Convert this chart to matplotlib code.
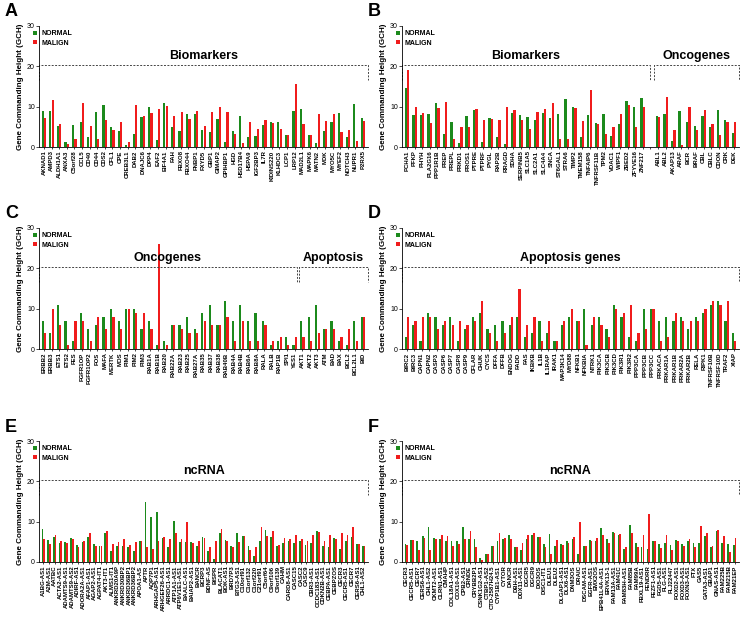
import numpy as np
import matplotlib.pyplot as plt

plt.rcParams['font.family'] = ['Liberation Sans', 'DejaVu Sans']

GREEN = '#1c8a1c'
RED = '#f01c1c'

# ---- panel A : biomarkers
a_genes = ['AKNAD1', 'AMPD3', 'ALDH1A1', 'ANXA3', 'C5orf28', 'CCL5', 'CD40', 'CD44', 'CDS2', 'CFL1',
           'CPE', 'CREB3L1', 'DAB2', 'DNAJC6', 'DPP4', 'EAF2', 'EIF4A1', 'FAH', 'FBXO8', 'FBXO44',
           'FNBP1', 'FXYD5', 'GBP1', 'GIMAP2', 'GPIHBP1', 'HGD', 'HSD17B4', 'HSPA9', 'IGF2BP3', 'IL7R',
           'KIDINS220', 'KLHDC3', 'LCP1', 'LRP12', 'MAD2L1', 'MAPK6', 'MATN2', 'MDK', 'MYO5C', 'MYEF2',
           'NOTCH3', 'NUPR1', 'P2RX5']
a_normal = [9.0, 9.0, 5.2, 1.3, 5.4, 6.3, 2.6, 8.6, 10.4, 4.9, 4.0, 0.5, 3.2, 7.4, 9.9, 1.7, 10.8,
            4.9, 3.9, 8.3, 8.3, 4.2, 3.6, 7.0, 1.2, 3.9, 7.8, 2.5, 2.7, 5.5, 6.2, 6.2, 2.9, 8.9, 9.4,
            3.0, 1.0, 4.0, 6.1, 8.4, 2.6, 10.7, 7.2]
a_malign = [7.3, 11.6, 5.8, 0.7, 2.1, 10.9, 5.2, 1.9, 6.6, 4.3, 6.1, 1.3, 10.4, 7.7, 8.5, 9.4, 10.1,
            7.8, 8.6, 6.9, 8.9, 5.1, 8.6, 9.9, 8.7, 3.1, 0.9, 6.2, 4.5, 6.7, 5.9, 4.5, 2.9, 15.6, 5.8,
            3.0, 8.1, 6.4, 8.1, 3.7, 4.3, 1.6, 6.5]
a_sections = [('Biomarkers', -0.65, 42.65)]

# ---- panel B : biomarkers + oncogenes
b_genes = ['PCHA1', 'PFKP', 'PHYH', 'PLA2G16', 'PPP1R1B', 'PREP', 'PREPL', 'PRKD1', 'PROS1', 'PTPRE',
           'PTPRF', 'PYGL', 'RAP2B', 'RRAGD', 'SDHA', 'SERPINB5', 'SLC1A5', 'SLC2A1', 'SLC4A4', 'SNCA',
           'ST6GAL1', 'STRA6', 'TIMP2', 'TMEM158', 'TNFAIP6', 'TNFRSF11B', 'TPM2', 'VDAC1', 'WIPF1',
           'ZBED2', 'ZFYVE16', 'ZNF217', '', 'ABL1', 'ABL2', 'AKAP13', 'ARAF', 'BCR', 'BRAF', 'CBL',
           'CBLC', 'CDON', 'CRK', 'DEK']
b_normal = [14.6, 7.9, 7.9, 8.1, 10.8, 3.2, 6.2, 0.9, 7.6, 9.1, 1.2, 7.3, 2.6, 0.8, 8.5, 8.0, 7.5,
            6.8, 8.4, 7.2, 8.3, 12.0, 9.8, 2.6, 7.9, 5.9, 8.1, 2.8, 5.8, 11.3, 9.9, 12.2, 0.0,
            7.8, 8.1, 1.4, 9.0, 6.1, 5.2, 7.7, 4.9, 9.2, 6.6, 3.5]
b_malign = [19.0, 10.0, 8.5, 5.9, 9.6, 11.1, 1.9, 5.0, 5.0, 9.3, 6.6, 6.9, 6.7, 10.0, 9.1, 6.8, 4.4,
            8.8, 9.3, 10.9, 2.1, 2.1, 9.6, 6.5, 14.1, 5.8, 3.1, 4.9, 8.2, 10.4, 5.0, 10.0, 0.0,
            7.5, 12.5, 4.1, 0.5, 9.9, 4.1, 9.1, 5.7, 3.0, 6.1, 6.3]
b_sections = [('Biomarkers', -0.65, 31.95), ('Oncogenes', 32.47, 43.65)]

# ---- panel C : oncogenes + apoptosis
c_genes = ['ERBB2', 'ERBB3', 'ETS1', 'ETS2', 'FES', 'FGFR1OP', 'FGFR1OP2', 'FOS', 'MAFA', 'MERTK',
           'MOS', 'PIM1', 'PIM2', 'PIM3', 'RAB1A', 'RAB1B', 'RAB20', 'RAB22A', 'RAB23', 'RAB25',
           'RAB27A', 'RAB35', 'RAB37', 'RAB38', 'RAB40B', 'RAB4A', 'RAB4B', 'RAB6A', 'RAB8A', 'RALA',
           'RALB', 'RAP1B', 'SPI1', 'YES1', 'AKT1', 'AKT2', 'AKT3', 'ATM', 'BAD', 'BAX', 'BCL2',
           'BCL2L1', 'BID']
c_normal = [7, 4, 11, 7, 2, 9, 5, 6, 8, 10, 7, 10, 10, 5, 7, 1, 2, 6, 6, 8, 5, 9, 11, 6, 12, 7, 11,
            7, 9, 7, 1, 2, 3, 1, 7, 8, 11, 5, 7, 2, 1, 7, 8]
c_malign = [4, 10, 6, 1, 7, 7, 2, 8, 5, 8, 5, 10, 9, 9, 5, 26, 1, 6, 5, 4, 4, 7, 6, 6, 8, 2, 7, 2,
            2, 6, 2, 3, 1, 3, 3, 2, 4, 5, 5, 3, 5, 2, 8]
c_sections = [('Oncogenes', -0.65, 33.3), ('Apoptosis', 33.56, 42.65)]

# ---- panel D : apoptosis genes
d_genes = ['BIRC2', 'BIRC3', 'CAPN1', 'CAPN2', 'CASP3', 'CASP6', 'CASP7', 'CASP8', 'CASP9', 'CFLAR',
           'CHUK', 'CYCS', 'DFFA', 'DFFB', 'ENDOG', 'FADD', 'FAS', 'IKBKB', 'IL1B', 'IL1RAP', 'IRAK1',
           'MAP3K14', 'MYD88', 'NFKB1', 'NFKBIA', 'NTRK1', 'PIK3CA', 'PIK3CB', 'PIK3CD', 'PIK3R1',
           'PIK3R2', 'PPP3CA', 'PPP3CB', 'PPP3CC', 'PRKACA', 'PRKAR1A', 'PRKAR1B', 'PRKAR2A',
           'PRKAR2B', 'RELA', 'RIPK1', 'TNFRSF10B', 'TNFRSF10D', 'TRAF2', 'XIAP']
d_normal = [3, 6, 2, 9, 8, 6, 8, 2, 5, 8, 9, 5, 6, 7, 6, 8, 3, 4, 7, 4, 2, 6, 8, 7, 10, 6, 8, 5,
            11, 8, 3, 2, 10, 10, 7, 8, 7, 8, 5, 8, 9, 11, 12, 7, 4]
d_malign = [8, 7, 8, 8, 5, 7, 6, 7, 6, 7, 12, 4, 2, 4, 8, 15, 6, 8, 2, 7, 2, 7, 10, 7, 1, 8, 6, 3,
            10, 9, 11, 4, 5, 10, 2, 3, 9, 7, 7, 7, 10, 12, 11, 12, 2]
d_sections = [('Apoptosis genes', -0.65, 44.65)]

# ---- panel E : ncRNA
e_genes = ['A1BG-AS1', 'A2M-AS1', 'AATBC', 'ACTA2-AS1', 'ADAMTS9-AS1', 'ADAMTS9-AS2', 'ADIRF-AS1',
           'ADORA2A-AS1', 'AFAP1-AS1', 'AGAP2-AS1', 'AGPAT4-IT1', 'AKT3-IT1', 'ALMS1-IT1', 'ANKRD20A9P',
           'ANKRD30BP2', 'ANKRD36BP1', 'ANKRD36BP2', 'APOA1-AS', 'APTR', 'AQP7P1', 'ARHGAP5-AS1',
           'ARHGEF26-AS1', 'ARRDC1-AS1', 'ATP1A1-AS1', 'ATP6V1E1-AS1', 'BAALC-AS1', 'BAIAP2-AS1',
           'BANCR', 'BCRP3', 'BDNF-AS', 'BISPR', 'BLACAT1', 'BOK-AS1', 'BRD7P3', 'BTG3-AS1',
           'C10orf91', 'C1orf132', 'C1orf220', 'C21orf91', 'C5orf64', 'C9orf106', 'C9orf139', 'CAHM',
           'CARD8-AS1', 'CASC15', 'CASC2', 'CASC9', 'CBR3-AS1', 'CCDC183-AS1', 'CDKN2B-AS1',
           'CEBPA-AS1', 'CEBPZOS', 'CECR3', 'CECR5-AS1', 'CECR7', 'CERS6-AS1', 'CHL1-AS2']
e_normal = [8.3, 5.4, 6.3, 4.6, 4.9, 5.9, 4.2, 4.9, 6.3, 4.4, 3.9, 7.2, 2.8, 3.9, 4.0, 3.8, 2.7, 5.2,
            14.9, 11.2, 12.3, 5.9, 3.7, 10.2, 4.9, 4.9, 4.9, 3.9, 6.3, 2.7, 0.8, 7.2, 5.4, 3.9, 7.1,
            6.5, 4.0, 1.5, 5.1, 7.9, 6.3, 4.0, 4.6, 5.3, 4.7, 5.1, 4.3, 4.6, 7.7, 4.0, 3.7, 6.0, 3.2,
            5.2, 6.3, 4.4, 3.9]
e_malign = [5.7, 4.5, 6.8, 5.2, 4.8, 5.8, 3.6, 5.3, 7.2, 3.9, 4.0, 7.8, 4.5, 4.9, 5.6, 4.2, 4.9, 5.1,
            3.6, 3.2, 5.2, 6.2, 5.8, 7.2, 5.7, 9.9, 4.6, 5.2, 5.9, 3.7, 5.2, 8.1, 5.2, 3.6, 4.9,
            6.5, 3.0, 3.7, 8.6, 6.5, 7.8, 4.2, 6.0, 5.8, 6.7, 5.6, 5.3, 6.6, 7.5, 5.1, 6.6, 5.8, 7.2,
            6.7, 8.7, 4.4, 3.9]
e_sections = [('ncRNA', -0.75, 56.75)]

# ---- panel F : ncRNA
f_genes = ['CECR3', 'CECR5-AS1', 'CECR7', 'CERS6-AS1', 'CHL1-AS2', 'CKMT2-AS1', 'CLRN1-AS1',
           'CMAHP', 'COL18A1-AS1', 'COX10-AS1', 'CPB2-AS1', 'CRNDE', 'CRYBB2P1', 'CSNK1G2-AS1',
           'CTBP1-AS2', 'CTD-2587H24.5', 'CYP1B1-AS1', 'CYTOR', 'DANCR', 'DBH-AS1', 'DDX11-AS1',
           'DGCR5', 'DGCR9', 'DIO3OS', 'DISC1-IT1', 'DLEU1', 'DLEU2', 'DLGAP1-AS1', 'DLX6-AS1',
           'DNM3OS', 'DRAIC', 'DSCAM-AS1', 'EGFR-AS1', 'EMX2OS', 'EPB41L4A-AS1', 'ERVK13-1',
           'FAM13A-AS1', 'FAM41C', 'FAM83H-AS1', 'FAM85B', 'FAM99A', 'FBXL19-AS1', 'FENDRR',
           'FEZF1-AS1', 'FGD5-AS1', 'FLG-AS1', 'FLJ22447', 'FOXD2-AS1', 'FOXD3-AS1', 'FOXN3-AS1',
           'FTX', 'GAS5', 'GATA3-AS1', 'GBAP1', 'GNAS-AS1', 'FAM225B', 'FAM215B', 'FAM21EP']
f_normal = [4.4, 5.4, 5.1, 6.5, 8.8, 6.0, 5.8, 5.3, 5.3, 5.1, 8.6, 5.8, 5.7, 0.9, 2.1, 4.0, 5.3,
            5.8, 6.8, 3.6, 3.0, 5.6, 6.6, 6.1, 4.5, 6.9, 3.9, 4.5, 5.2, 5.7, 2.1, 3.9, 5.4, 5.3, 8.5,
            5.7, 7.4, 6.8, 3.2, 9.2, 4.6, 3.8, 3.3, 5.2, 4.5, 4.8, 4.3, 5.4, 4.5, 5.2, 4.7, 4.7, 6.5,
            3.8, 7.7, 4.8, 4.5, 4.3]
f_malign = [4.3, 5.4, 3.0, 6.0, 2.9, 5.8, 6.6, 6.4, 3.9, 4.4, 5.8, 7.8, 3.6, 0.6, 2.1, 4.0, 7.2,
            5.9, 5.7, 3.6, 4.7, 6.7, 7.1, 6.1, 3.7, 2.0, 5.4, 4.1, 4.7, 6.2, 10.0, 3.9, 5.3, 5.9, 6.8,
            4.6, 7.3, 6.9, 3.7, 7.1, 3.8, 6.6, 11.9, 5.2, 3.4, 6.8, 2.9, 5.2, 3.9, 5.7, 3.7, 9.0, 7.2,
            3.9, 8.0, 6.4, 2.4, 6.0]
f_sections = [('ncRNA', -0.75, 57.75)]


def draw_panel(ax, genes, normal, malign, sections, margin):
    x = np.arange(len(genes))
    ax.bar(x - 0.155, normal, width=0.3, color=GREEN, label='NORMAL')
    ax.bar(x + 0.155, malign, width=0.3, color=RED, label='MALIGN')
    ax.set_xlim(-margin, len(genes) - 1 + margin)
    ax.set_ylim(0, 30)
    ax.set_yticks([0, 10, 20, 30])
    ax.set_xticks(x)
    ax.set_xticklabels(genes, rotation=90, fontsize=4.3, fontweight='bold')
    ax.tick_params(axis='x', length=1.5, width=0.5, pad=1)
    ax.tick_params(axis='y', labelsize=5, length=2, width=0.5, pad=1)
    ax.spines['top'].set_visible(False)
    ax.spines['right'].set_visible(False)
    ax.spines['left'].set_linewidth(0.6)
    ax.spines['bottom'].set_linewidth(0.6)
    ax.set_ylabel('Gene Commanding Height (GCH)', fontsize=5.8, fontweight='bold', labelpad=2)
    for name, start, end in sections:
        ax.plot([start, start, end, end], [16.5, 20.3, 20.3, 16.5], ls=(0, (2, 1.5)),
                color='#444444', lw=0.7, clip_on=False)
        ax.text((start + end) / 2, 21.0, name, ha='center', va='bottom',
                fontsize=9, fontweight='bold')
    ax.legend(loc='upper left', bbox_to_anchor=(-0.03, 1.0), frameon=False,
              prop={'weight': 'bold', 'size': 5}, handlelength=0.6, handleheight=0.6,
              handletextpad=0.6, labelspacing=0.35, borderaxespad=0.2)


fig = plt.figure(figsize=(7.4, 6.42), dpi=100)

W, H = 740, 642
rows = [(26, 147), (228, 349), (441, 562)]
cols = [(39, 368), (402, 739)]

panels = [
    ('A', a_genes, a_normal, a_malign, a_sections, 0.65, 0, 0),
    ('B', b_genes, b_normal, b_malign, b_sections, 0.65, 0, 1),
    ('C', c_genes, c_normal, c_malign, c_sections, 0.65, 1, 0),
    ('D', d_genes, d_normal, d_malign, d_sections, 0.65, 1, 1),
    ('E', e_genes, e_normal, e_malign, e_sections, 0.75, 2, 0),
    ('F', f_genes, f_normal, f_malign, f_sections, 0.75, 2, 1),
]

for letter, genes, normal, malign, sections, margin, r, c in panels:
    top, bottom = rows[r]
    left, right = cols[c]
    ax = fig.add_axes([left / W, 1 - bottom / H, (right - left) / W, (bottom - top) / H])
    draw_panel(ax, genes, normal, malign, sections, margin)
    fig.text((left - 34) / W, 1 - (top - 14) / H, letter, fontsize=13, fontweight='bold',
             ha='left', va='center')

fig.savefig('out.png', dpi=100)
